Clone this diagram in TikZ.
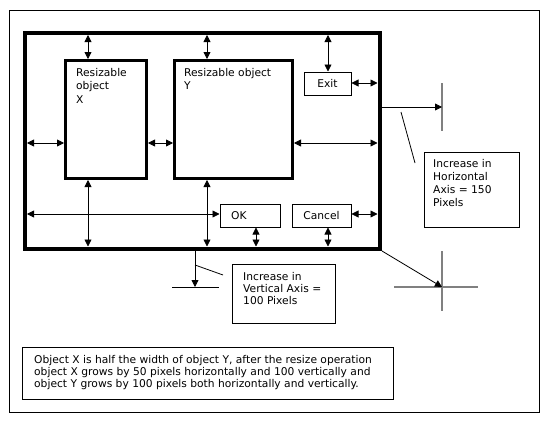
\documentclass[tikz,border=0pt]{standalone}
\usepackage{fontspec}
\setmainfont{DejaVu Sans}
\usetikzlibrary{arrows.meta}
\begin{document}
\begin{tikzpicture}[x=1pt,y=-1pt,
  box/.style={draw,line width=1pt,outer sep=0.5pt,inner sep=0pt,anchor=north west},
  thickbox/.style={draw,line width=3pt,outer sep=1.5pt,inner sep=0pt,anchor=north west},
  txt/.style={anchor=base west,inner sep=0pt,align=left,font=\fontsize{10.7}{13}\selectfont},
  con/.style={line width=0.8pt},
  dbl/.style={con,{Triangle[length=7pt,width=7pt]}-{Triangle[length=7pt,width=7pt]}},
  sgl/.style={con,-{Triangle[length=7pt,width=7pt]}},
  crs/.style={line width=1.3pt,draw=black!50}]
\useasboundingbox (0,0) rectangle (550,426);
% outer frame
\node[box,minimum width=530pt,minimum height=402pt] (frame) at (8.5,9.5) {};
% main window
\node[draw,line width=4.5pt,outer sep=-2.25pt,inner sep=0pt,anchor=north west,
  minimum width=355pt,minimum height=216pt] (main) at (27,35) {};
% resizable objects
\node[thickbox,minimum width=81pt,minimum height=118pt] (X) at (64,59) {};
\node[thickbox,minimum width=118pt,minimum height=118pt] (Y) at (173,59) {};
\node[txt,font=\fontsize{10.7}{13.5}\selectfont] (Xt) at (76,103) {Resizable\\object\\X};
\node[txt,font=\fontsize{10.7}{13.5}\selectfont] (Yt) at (184,89.5) {Resizable object\\Y};
% buttons
\node[box,minimum width=47pt,minimum height=23pt] (exit) at (303.5,71.5) {};
\node[txt,anchor=center] (exitt) at (exit.center) {Exit};
\node[box,minimum width=60pt,minimum height=23pt] (ok) at (219.5,203.5) {};
\node[txt] (okt) at (231,219) {OK};
\node[box,minimum width=59pt,minimum height=23pt] (cancel) at (291.5,203.5) {};
\node[txt,anchor=center] (cancelt) at (cancel.center) {Cancel};
% note boxes
\node[box,minimum width=95pt,minimum height=75pt] (hbox) at (423.5,151.5) {};
\node[txt] (hboxt) at (433,206) {Increase in\\Horizontal\\Axis = 150\\Pixels};
\node[box,minimum width=103pt,minimum height=59pt] (vbox) at (231.5,263.5) {};
\node[txt,font=\fontsize{10.7}{12}\selectfont] (vboxt) at (243,304) {Increase in\\Vertical Axis =\\100 Pixels};
\node[box,minimum width=371pt,minimum height=52pt] (nbox) at (21.5,346.5) {};
\node[txt,font=\fontsize{10.7}{12}\selectfont] (nboxt) at (34,387) {Object X is half the width of object Y, after the resize operation\\object X grows by 50 pixels horizontally and 100 vertically and\\object Y grows by 100 pixels both horizontally and vertically.};
% helper coordinates
\coordinate (c88) at (88,0);
\coordinate (c207) at (207,0);
\coordinate (c328) at (328,0);
\coordinate (c256) at (256,0);
\coordinate (c195) at (195,0);
\coordinate (r83) at (0,83);
\coordinate (r143) at (0,143);
\coordinate (r214) at (0,214);
\coordinate (r107) at (0,107);
% double arrows
\draw[dbl] (main.north -| c88) -- (X.north -| c88);
\draw[dbl] (main.north -| c207) -- (Y.north -| c207);
\draw[dbl] (main.north -| c328) -- (exit.north -| c328);
\draw[dbl] (exit.east |- r83) -- (main.east |- r83);
\draw[dbl] (main.west |- r143) -- (X.west |- r143);
\draw[dbl] (X.east |- r143) -- (Y.west |- r143);
\draw[dbl] (Y.east |- r143) -- (main.east |- r143);
\draw[dbl] (main.west |- r214) -- (ok.west |- r214);
\draw[dbl] (X.south -| c88) -- (main.south -| c88);
\draw[dbl] (Y.south -| c207) -- (main.south -| c207);
\draw[dbl] (ok.south -| c256) -- (main.south -| c256);
\draw[dbl] (cancel.south -| c328) -- (main.south -| c328);
\draw[dbl] (cancel.east |- r214) -- (main.east |- r214);
% growth indicators
\coordinate (hend) at (442,107);
\coordinate (ht) at (442,83);
\coordinate (hb) at (442,131);
\draw[crs] (ht) -- (hb);
\draw[sgl] (382,107) -- (hend);
\coordinate (cc) at (442,287);
\coordinate (cl) at (394,287);
\coordinate (cr) at (478,287);
\coordinate (ct) at (442,251);
\coordinate (cb) at (442,311);
\draw[crs] (cl) -- (cr);
\draw[crs] (ct) -- (cb);
\draw[sgl] (382,251) -- (cc);
\coordinate (vend) at (195,287);
\coordinate (vl) at (172,287);
\coordinate (vr) at (219,287);
\draw[con] (vl) -- (vr);
\draw[sgl] (195,251) -- (vend);
% leader lines
\coordinate (l1a) at (401,112);
\coordinate (l1b) at (415,163);
\draw[con] (l1a) -- (l1b);
\coordinate (l2a) at (195,265);
\coordinate (l2b) at (223,275);
\draw[con] (l2a) -- (l2b);
\end{tikzpicture}
\end{document}
